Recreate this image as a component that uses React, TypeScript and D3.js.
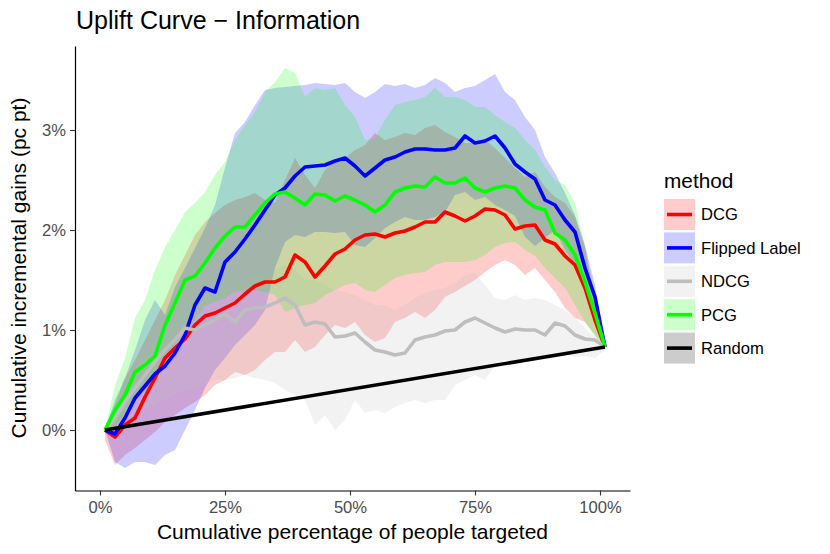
import React, { useEffect, useRef } from 'react';
import * as d3 from 'd3';

// x positions (cumulative % of people targeted)
const PCT = [1, 3, 5, 7, 9, 11, 13, 15, 17, 19, 21, 23, 25, 27, 29, 31, 33, 35, 37, 39, 41, 43, 45, 47, 49, 51, 53, 55, 57, 59, 61, 63, 65, 67, 69, 71, 73, 75, 77, 79, 81, 83, 85, 87, 89, 91, 93, 95, 97, 99, 101];

// DCG
const DCG = [0.00, -0.07, 0.05, 0.12, 0.33, 0.52, 0.72, 0.82, 0.91, 1.05, 1.14, 1.17, 1.22, 1.27, 1.36, 1.44, 1.48, 1.48, 1.53, 1.75, 1.68, 1.53, 1.64, 1.76, 1.81, 1.90, 1.95, 1.96, 1.93, 1.97, 1.99, 2.03, 2.08, 2.08, 2.18, 2.14, 2.09, 2.14, 2.21, 2.20, 2.15, 2.01, 2.04, 2.05, 1.90, 1.86, 1.74, 1.65, 1.42, 1.10, 0.83];
const DCG_LO = [-0.10, -0.35, -0.25, -0.18, -0.10, -0.02, 0.08, 0.15, 0.22, 0.28, 0.35, 0.45, 0.50, 0.58, 0.55, 0.60, 0.70, 0.78, 0.78, 0.90, 0.78, 0.83, 0.95, 1.05, 1.02, 1.08, 0.95, 0.88, 0.92, 1.08, 1.12, 1.18, 1.12, 1.20, 1.33, 1.38, 1.44, 1.50, 1.58, 1.65, 1.70, 1.65, 1.55, 1.62, 1.50, 1.38, 1.22, 1.12, 1.08, 0.95, 0.83];
const DCG_HI = [0.00, 0.25, 0.52, 0.70, 0.90, 1.10, 1.30, 1.55, 1.75, 1.95, 2.08, 2.17, 2.25, 2.30, 2.33, 2.37, 2.30, 2.27, 2.50, 2.72, 2.55, 2.42, 2.60, 2.70, 2.72, 2.80, 2.85, 2.97, 2.90, 2.93, 2.97, 2.95, 3.02, 3.05, 2.98, 2.93, 2.87, 2.87, 2.90, 2.82, 2.72, 2.62, 2.53, 2.58, 2.43, 2.33, 2.27, 2.13, 1.83, 1.30, 0.83];

// Flipped Label
const FLIPPED = [0.00, -0.04, 0.12, 0.32, 0.44, 0.56, 0.64, 0.77, 0.95, 1.25, 1.42, 1.38, 1.68, 1.78, 1.91, 2.05, 2.20, 2.35, 2.42, 2.54, 2.63, 2.64, 2.65, 2.69, 2.72, 2.64, 2.54, 2.62, 2.70, 2.73, 2.78, 2.81, 2.81, 2.80, 2.80, 2.82, 2.94, 2.87, 2.89, 2.94, 2.82, 2.66, 2.58, 2.51, 2.30, 2.25, 2.10, 1.98, 1.62, 1.33, 0.83];
const FLIPPED_LO = [0.00, -0.32, -0.38, -0.32, -0.32, -0.35, -0.25, -0.20, 0.00, 0.20, 0.42, 0.60, 0.72, 0.85, 0.95, 1.05, 1.20, 1.62, 1.88, 1.95, 1.93, 1.98, 1.98, 1.97, 1.98, 1.85, 1.83, 1.92, 2.02, 2.08, 2.13, 2.10, 2.10, 2.13, 2.18, 2.35, 2.38, 2.30, 2.33, 2.25, 2.20, 2.14, 1.93, 1.84, 1.92, 2.00, 1.80, 1.65, 1.40, 1.12, 0.83];
const FLIPPED_HI = [0.00, 0.30, 0.52, 0.80, 1.10, 1.30, 1.15, 1.43, 1.62, 1.82, 2.02, 2.25, 2.62, 2.97, 3.08, 3.25, 3.40, 3.42, 3.43, 3.44, 3.45, 3.47, 3.46, 3.45, 3.47, 3.38, 3.32, 3.38, 3.46, 3.44, 3.46, 3.42, 3.45, 3.52, 3.47, 3.38, 3.42, 3.44, 3.50, 3.56, 3.38, 3.30, 3.13, 3.00, 2.73, 2.57, 2.37, 2.15, 1.85, 1.45, 0.83];

// NDCG
const NDCG = [0.00, 0.12, 0.28, 0.42, 0.55, 0.68, 0.80, 0.90, 1.02, 1.00, 1.05, 1.10, 1.16, 1.08, 1.20, 1.22, 1.23, 1.27, 1.32, 1.25, 1.05, 1.08, 1.06, 0.93, 0.94, 0.97, 0.88, 0.80, 0.78, 0.75, 0.77, 0.90, 0.93, 0.95, 0.99, 1.00, 1.08, 1.12, 1.07, 1.02, 0.98, 1.01, 1.00, 1.00, 0.95, 1.07, 1.04, 0.95, 0.91, 0.90, 0.83];
const NDCG_LO = [0.00, 0.05, 0.10, 0.15, 0.20, 0.25, 0.30, 0.35, 0.40, 0.40, 0.45, 0.50, 0.50, 0.52, 0.55, 0.52, 0.50, 0.47, 0.40, 0.35, 0.30, 0.05, 0.15, 0.00, 0.10, 0.30, 0.17, 0.20, 0.17, 0.23, 0.27, 0.30, 0.27, 0.30, 0.30, 0.45, 0.50, 0.55, 0.50, 0.65, 0.70, 0.68, 0.72, 0.70, 0.73, 0.72, 0.75, 0.73, 0.74, 0.72, 0.80];
const NDCG_HI = [0.00, 0.30, 0.45, 0.60, 0.75, 0.85, 0.95, 1.10, 1.30, 1.30, 1.35, 1.40, 1.45, 1.40, 1.50, 1.55, 1.55, 1.60, 1.65, 1.60, 1.50, 1.50, 1.45, 1.40, 1.38, 1.35, 1.30, 1.25, 1.25, 1.20, 1.25, 1.32, 1.37, 1.40, 1.42, 1.47, 1.55, 1.57, 1.45, 1.32, 1.30, 1.35, 1.30, 1.32, 1.30, 1.25, 1.20, 1.12, 1.02, 0.93, 0.83];

// PCG
const PCG = [0.00, 0.20, 0.35, 0.58, 0.65, 0.74, 1.05, 1.27, 1.50, 1.54, 1.67, 1.82, 1.94, 2.03, 2.03, 2.15, 2.27, 2.36, 2.38, 2.32, 2.25, 2.36, 2.35, 2.29, 2.34, 2.30, 2.25, 2.18, 2.25, 2.38, 2.42, 2.44, 2.43, 2.53, 2.47, 2.47, 2.52, 2.42, 2.38, 2.42, 2.44, 2.42, 2.30, 2.23, 2.20, 1.97, 1.90, 1.75, 1.48, 1.17, 0.83];
const PCG_LO = [0.00, 0.02, 0.15, 0.32, 0.40, 0.52, 0.68, 0.85, 1.00, 1.10, 1.24, 1.28, 1.32, 1.38, 1.40, 1.40, 1.38, 1.35, 1.18, 1.22, 1.25, 1.27, 1.35, 1.40, 1.45, 1.47, 1.40, 1.38, 1.45, 1.52, 1.55, 1.57, 1.58, 1.65, 1.68, 1.68, 1.68, 1.70, 1.75, 1.83, 1.87, 1.88, 1.80, 1.74, 1.62, 1.52, 1.42, 1.25, 1.08, 0.93, 0.83];
const PCG_HI = [0.00, 0.45, 0.72, 1.12, 1.30, 1.60, 1.83, 2.00, 2.18, 2.27, 2.38, 2.55, 2.68, 2.90, 3.05, 3.18, 3.38, 3.48, 3.62, 3.57, 3.33, 3.42, 3.40, 3.42, 3.25, 3.13, 2.90, 2.92, 3.10, 3.25, 3.28, 3.30, 3.33, 3.42, 3.33, 3.33, 3.30, 3.23, 3.23, 3.15, 3.08, 3.02, 2.90, 2.80, 2.63, 2.50, 2.45, 2.27, 1.83, 1.30, 0.83];

// Random (straight line)
const RANDOM_PCT = [1, 101];
const RANDOM = [0.00, 0.83];

const X_TICKS = [0, 25, 50, 75, 100];
const Y_TICKS = [0, 1, 2, 3];
const METHODS = ['DCG', 'Flipped Label', 'NDCG', 'PCG', 'Random'];
const COLORS = ['#FF0000', '#0000FF', '#BEBEBE', '#00FF00', '#000000'];

const FONT = '"Liberation Sans", Arial, Helvetica, sans-serif';

const App: React.FC = () => {
    const svgRef = useRef<SVGSVGElement>(null);

    useEffect(() => {
        if (!svgRef.current) return;
        const svg = d3.select(svgRef.current);
        svg.selectAll('*').remove();

        const x = d3.scaleLinear().domain([-5, 106]).range([75, 630]);
        const y = d3.scaleLinear().domain([-0.605, 3.84]).range([490.5, 46]);

        const series = [
            { line: DCG, lo: DCG_LO, hi: DCG_HI },
            { line: FLIPPED, lo: FLIPPED_LO, hi: FLIPPED_HI },
            { line: NDCG, lo: NDCG_LO, hi: NDCG_HI },
            { line: PCG, lo: PCG_LO, hi: PCG_HI },
        ];

        const area = d3.area<number>()
            .x((_, i) => x(PCT[i]));

        // ribbons
        series.forEach((s, k) => {
            svg.append('path')
                .attr('d', area.y0((_, i) => y(s.lo[i])).y1((_, i) => y(s.hi[i]))(PCT) as string)
                .attr('fill', COLORS[k])
                .attr('fill-opacity', 0.2);
        });

        // lines
        const line = d3.line<number>()
            .x((_, i) => x(PCT[i]));
        series.forEach((s, k) => {
            svg.append('path')
                .attr('d', line.y((_, i) => y(s.line[i]))(PCT) as string)
                .attr('fill', 'none')
                .attr('stroke', COLORS[k])
                .attr('stroke-width', 3.6)
                .attr('stroke-linejoin', 'round');
        });
        svg.append('path')
            .attr('d', d3.line<number>().x(d => x(d)).y((_, i) => y(RANDOM[i]))(RANDOM_PCT) as string)
            .attr('fill', 'none')
            .attr('stroke', COLORS[4])
            .attr('stroke-width', 3.6);

        // axes
        const xAxis = svg.append('g')
            .attr('transform', 'translate(0,490.5)')
            .call(d3.axisBottom(x).tickValues(X_TICKS).tickFormat(d => `${d}%`).tickSize(5).tickSizeOuter(0).tickPadding(6));
        const yAxis = svg.append('g')
            .attr('transform', 'translate(75,0)')
            .call(d3.axisLeft(y).tickValues(Y_TICKS).tickFormat(d => `${d}%`).tickSize(5).tickSizeOuter(0).tickPadding(4));
        [xAxis, yAxis].forEach(g => {
            g.select('.domain').attr('stroke', '#000').attr('stroke-width', 1.2);
            g.selectAll('.tick line').attr('stroke', '#333').attr('stroke-width', 1.1);
            g.selectAll('.tick text')
                .attr('fill', '#4D4D4D')
                .attr('font-size', '16.6px')
                .attr('font-family', FONT);
        });

        // titles
        svg.append('text')
            .attr('x', 76)
            .attr('y', 29)
            .attr('font-size', '25px')
            .attr('font-family', FONT)
            .text('Uplift Curve \u2212 Information');

        svg.append('text')
            .attr('x', 352.5)
            .attr('y', 539)
            .attr('text-anchor', 'middle')
            .attr('font-size', '21px')
            .attr('font-family', FONT)
            .text('Cumulative percentage of people targeted');

        svg.append('text')
            .attr('transform', 'translate(26,268) rotate(-90)')
            .attr('text-anchor', 'middle')
            .attr('font-size', '21px')
            .attr('font-family', FONT)
            .text('Cumulative incremental gains (pc pt)');

        // legend
        const legend = svg.append('g');
        legend.append('text')
            .attr('x', 664)
            .attr('y', 188)
            .attr('font-size', '20.8px')
            .attr('font-family', FONT)
            .text('method');
        METHODS.forEach((m, i) => {
            const y0 = 199 + i * 33.4;
            legend.append('rect')
                .attr('x', 664)
                .attr('y', y0)
                .attr('width', 31)
                .attr('height', 31)
                .attr('fill', COLORS[i])
                .attr('fill-opacity', 0.2);
            legend.append('line')
                .attr('x1', 667)
                .attr('x2', 692)
                .attr('y1', y0 + 15.5)
                .attr('y2', y0 + 15.5)
                .attr('stroke', COLORS[i])
                .attr('stroke-width', 3.6);
            legend.append('text')
                .attr('x', 701)
                .attr('y', y0 + 15.5)
                .attr('dy', '0.36em')
                .attr('font-size', '16.6px')
                .attr('font-family', FONT)
                .text(m);
        });
    }, []);

    return (
        <svg ref={svgRef} width="830" height="554"
            style={{ position: 'absolute', left: 0, top: 0, background: '#fff' }}></svg>
    );
};

export default App;
